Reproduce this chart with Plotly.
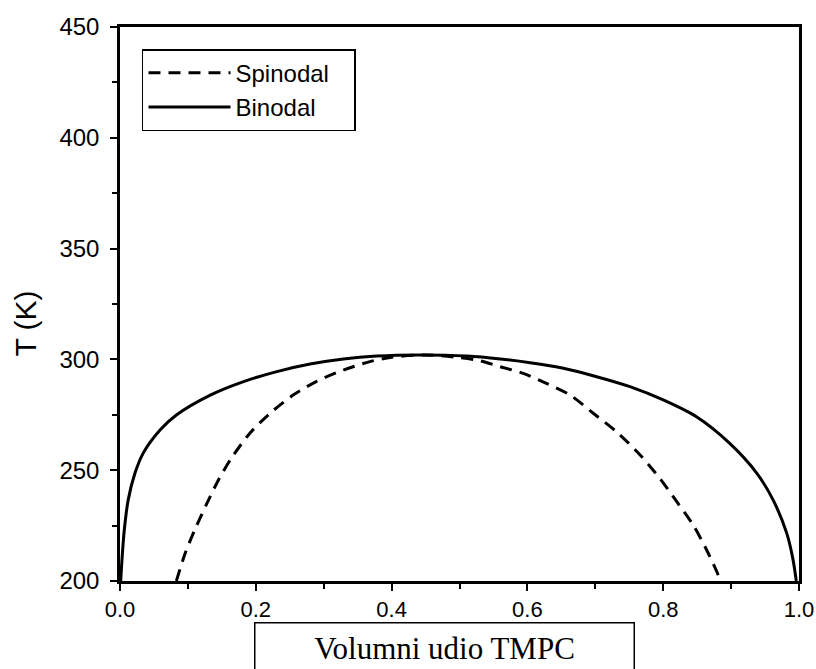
import plotly.graph_objects as go

# Binodal curve (x = volume fraction TMPC, T in K)
binodal_x = [0.001, 0.003, 0.006, 0.012, 0.022, 0.034, 0.059, 0.083, 0.133, 0.182,
             0.231, 0.28, 0.329, 0.378, 0.44, 0.511, 0.56, 0.604, 0.653, 0.702,
             0.751, 0.80, 0.849, 0.898, 0.938, 0.962, 0.982, 0.991, 0.996]
binodal_T = [200, 210, 222, 236.5, 248.6, 257.6, 268.1, 274.9, 283.9, 290,
             294.5, 297.9, 300.2, 301.5, 302, 301.5, 300.2, 298.5, 296, 292.2,
             287.7, 281.7, 274.1, 262.1, 248.6, 236.5, 221.5, 210, 200]

# Spinodal curve
spinodal_x = [0.083, 0.096, 0.11, 0.128, 0.145, 0.164, 0.191, 0.221, 0.255, 0.289,
              0.329, 0.368, 0.40, 0.45, 0.50, 0.53, 0.56, 0.594, 0.628, 0.663,
              0.697, 0.731, 0.766, 0.795, 0.82, 0.844, 0.864, 0.881, 0.884]
spinodal_T = [200, 212.5, 223, 235, 245.6, 255.4, 266.6, 275.7, 283.9, 290,
              295.2, 299, 301, 302, 300.8, 299.4, 296.7, 293.7, 289.2, 283.9,
              275.7, 267.4, 256.9, 246.3, 235.8, 225.3, 214, 202.7, 200]

x_ticks = [0.0, 0.2, 0.4, 0.6, 0.8, 1.0]
y_ticks = [200, 250, 300, 350, 400, 450]

fig = go.Figure()
fig.add_trace(go.Scatter(x=spinodal_x, y=spinodal_T, mode="lines",
                         name="Spinodal\u00a0\u00a0\u00a0",
                         line=dict(color="black", width=3, dash="12px,8px",
                                   shape="spline", smoothing=0.8)))
fig.add_trace(go.Scatter(x=binodal_x, y=binodal_T, mode="lines", name="Binodal",
                         line=dict(color="black", width=3, shape="spline", smoothing=0.8)))

axis_common = dict(showline=True, linecolor="black", linewidth=2.5, mirror=True,
                   ticks="outside", ticklen=7, tickwidth=2, tickcolor="black",
                   showgrid=False, zeroline=False, automargin=False,
                   tickfont=dict(family="Liberation Sans", size=22, color="black"))

fig.update_xaxes(range=[0, 1], tickvals=x_ticks, tickformat=".1f",
                 minor=dict(dtick=0.1, ticks="outside", ticklen=5, tickwidth=2, tickcolor="black"),
                 **axis_common)
fig.update_yaxes(range=[200, 450], tickvals=y_ticks,
                 minor=dict(dtick=25, ticks="outside", ticklen=5, tickwidth=2, tickcolor="black"),
                 ticklabelstandoff=6,
                 **axis_common)
fig.update_yaxes(tickfont=dict(size=24))

# y-axis title (placed slightly below centre, as in the reference)
fig.add_annotation(text="T (K)", xref="paper", yref="paper",
                   x=-0.139, y=0.464, xanchor="center", yanchor="middle",
                   textangle=-90, showarrow=False,
                   font=dict(family="Liberation Sans", size=30, color="black"))

fig.add_annotation(text="Volumni udio TMPC", xref="paper", yref="paper",
                   x=0.4786, y=-0.074, xanchor="center", yanchor="top",
                   showarrow=False, width=374, height=46, valign="middle",
                   bordercolor="black", borderwidth=1.5, borderpad=2,
                   font=dict(family="Liberation Serif", size=31, color="black"))

fig.update_layout(
    width=816, height=669,
    margin=dict(l=120, r=17, t=27, b=88),
    plot_bgcolor="white", paper_bgcolor="white",
    legend=dict(x=0.0324, y=0.96, xanchor="left", yanchor="top",
                bordercolor="black", borderwidth=1.5, bgcolor="white",
                font=dict(family="Liberation Sans", size=24, color="black"),
                itemwidth=82),
    showlegend=True,
)

fig.write_html("out.html")
